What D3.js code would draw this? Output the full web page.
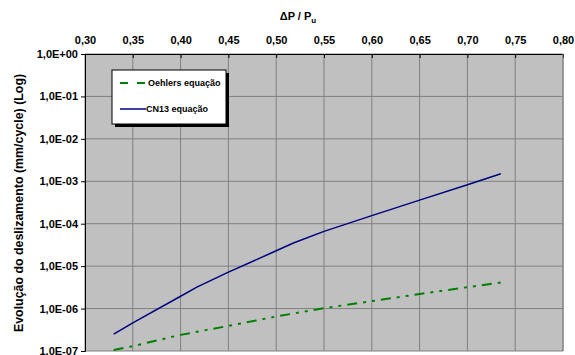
<!DOCTYPE html>
<html>
<head>
<meta charset="utf-8">
<script src="https://cdn.jsdelivr.net/npm/d3@7"></script>
<style>
  body { margin: 0; background: #fff; }
  text { font-family: "Liberation Sans", Arial, sans-serif; font-weight: bold; fill: #000; }
</style>
</head>
<body>
<div id="chart"></div>
<script>
// Data (x = dP/Pu, y = mm/cycle)
const xTicks = [0.30, 0.35, 0.40, 0.45, 0.50, 0.55, 0.60, 0.65, 0.70, 0.75, 0.80];
const yTicks = [1e0, 1e-1, 1e-2, 1e-3, 1e-4, 1e-5, 1e-6, 1e-7];

const cn13X = [0.33, 0.35, 0.40, 0.417, 0.45, 0.50, 0.518, 0.55, 0.60, 0.65, 0.70, 0.735];
const cn13Y = [2.5e-7, 4.6e-7, 1.95e-6, 3.2e-6, 7.2e-6, 2.3e-5, 3.5e-5, 6.6e-5, 1.55e-4, 3.6e-4, 8.3e-4, 1.5e-3];

const oehlersX = [0.33, 0.35, 0.40, 0.45, 0.50, 0.55, 0.60, 0.65, 0.70, 0.735];
const oehlersY = [1.05e-7, 1.3e-7, 2.4e-7, 3.9e-7, 6.5e-7, 1.02e-6, 1.5e-6, 2.2e-6, 3.2e-6, 4.1e-6];

const seriesNames = ["Oehlers equação", "CN13 equação"];

const margin = {top: 54, left: 85};
const plotW = 478, plotH = 297;

const svg = d3.select("#chart")
    .append("svg")
    .attr("width", 575)
    .attr("height", 355);

const g = svg.append("g")
    .attr("transform", `translate(${margin.left},${margin.top})`);

const x = d3.scaleLinear().domain([0.30, 0.80]).range([0, plotW]);
const y = d3.scaleLog().domain([1e-7, 1]).range([plotH, 0]);

// Plot background
g.append("rect")
    .attr("width", plotW)
    .attr("height", plotH)
    .attr("fill", "#c0c0c0");

// Gridlines
g.append("g")
    .selectAll("line")
    .data(xTicks)
    .enter().append("line")
    .attr("x1", d => x(d)).attr("x2", d => x(d))
    .attr("y1", 0).attr("y2", plotH)
    .attr("stroke", "#808080");

g.append("g")
    .selectAll("line")
    .data(yTicks)
    .enter().append("line")
    .attr("x1", 0).attr("x2", plotW)
    .attr("y1", d => y(d)).attr("y2", d => y(d))
    .attr("stroke", "#808080");

// Axes
const fmtX = d => d3.format(".2f")(d).replace(".", ",");
const fmtY = d => {
    const e = Math.round(Math.log10(d));
    return "1,0E" + (e < 0 ? "-" : "+") + String(Math.abs(e)).padStart(2, "0");
};

const xAxis = g.append("g")
    .call(d3.axisTop(x).tickValues(xTicks).tickFormat(fmtX).tickSize(-4).tickPadding(10));
xAxis.select(".domain").attr("stroke", "#000");
xAxis.selectAll(".tick line").attr("stroke", "#000");
xAxis.selectAll("text").style("font-size", "11px").attr("fill", "#000");

const yAxis = g.append("g")
    .call(d3.axisLeft(y).tickValues(yTicks).tickFormat(fmtY).tickSize(4).tickPadding(3));
yAxis.select(".domain").attr("stroke", "#000");
yAxis.selectAll(".tick line").attr("stroke", "#000");
yAxis.selectAll("text").style("font-size", "11px").attr("fill", "#000");

// Right border
g.append("line").attr("x1", plotW).attr("x2", plotW).attr("y1", 0).attr("y2", plotH).attr("stroke", "#808080");

// Lines
const line = d3.line().x(d => x(d[0])).y(d => y(d[1]));

g.append("path")
    .datum(d3.zip(oehlersX, oehlersY))
    .attr("d", line)
    .attr("fill", "none")
    .attr("stroke", "#008000")
    .attr("stroke-width", 2)
    .attr("stroke-dasharray", "10,6,3,6,3,6");

g.append("path")
    .datum(d3.zip(cn13X, cn13Y))
    .attr("d", line)
    .attr("fill", "none")
    .attr("stroke", "#000080")
    .attr("stroke-width", 1.5);

// Legend
const legend = svg.append("g").attr("transform", "translate(112,70)");
legend.append("rect").attr("x", 3).attr("y", 3).attr("width", 114).attr("height", 54).attr("fill", "#000");
legend.append("rect").attr("width", 114).attr("height", 54).attr("fill", "#fff").attr("stroke", "#000");

legend.append("line")
    .attr("x1", 8).attr("x2", 33).attr("y1", 13).attr("y2", 13)
    .attr("stroke", "#008000").attr("stroke-width", 2)
    .attr("stroke-dasharray", "8,9");
legend.append("line")
    .attr("x1", 8).attr("x2", 34).attr("y1", 39).attr("y2", 39)
    .attr("stroke", "#000080").attr("stroke-width", 1.5);

legend.selectAll("text.leg")
    .data(seriesNames)
    .enter().append("text")
    .attr("class", "leg")
    .attr("x", d => d === "CN13 equação" ? 34 : 36)
    .attr("y", (d, i) => 13 + i * 26)
    .attr("dy", "0.35em")
    .style("font-size", "9px")
    .text(d => d);

// Titles
const xt = svg.append("text")
    .attr("x", 298)
    .attr("y", 20)
    .attr("text-anchor", "middle")
    .style("font-size", "11px");
xt.append("tspan").text("ΔP / P");
xt.append("tspan").attr("dy", 3).style("font-size", "8px").text("u");

svg.append("text")
    .attr("transform", "translate(23,203) rotate(-90)")
    .attr("text-anchor", "middle")
    .style("font-size", "12.4px")
    .text("Evolução do deslizamento (mm/cycle) (Log)");
</script>
</body>
</html>
